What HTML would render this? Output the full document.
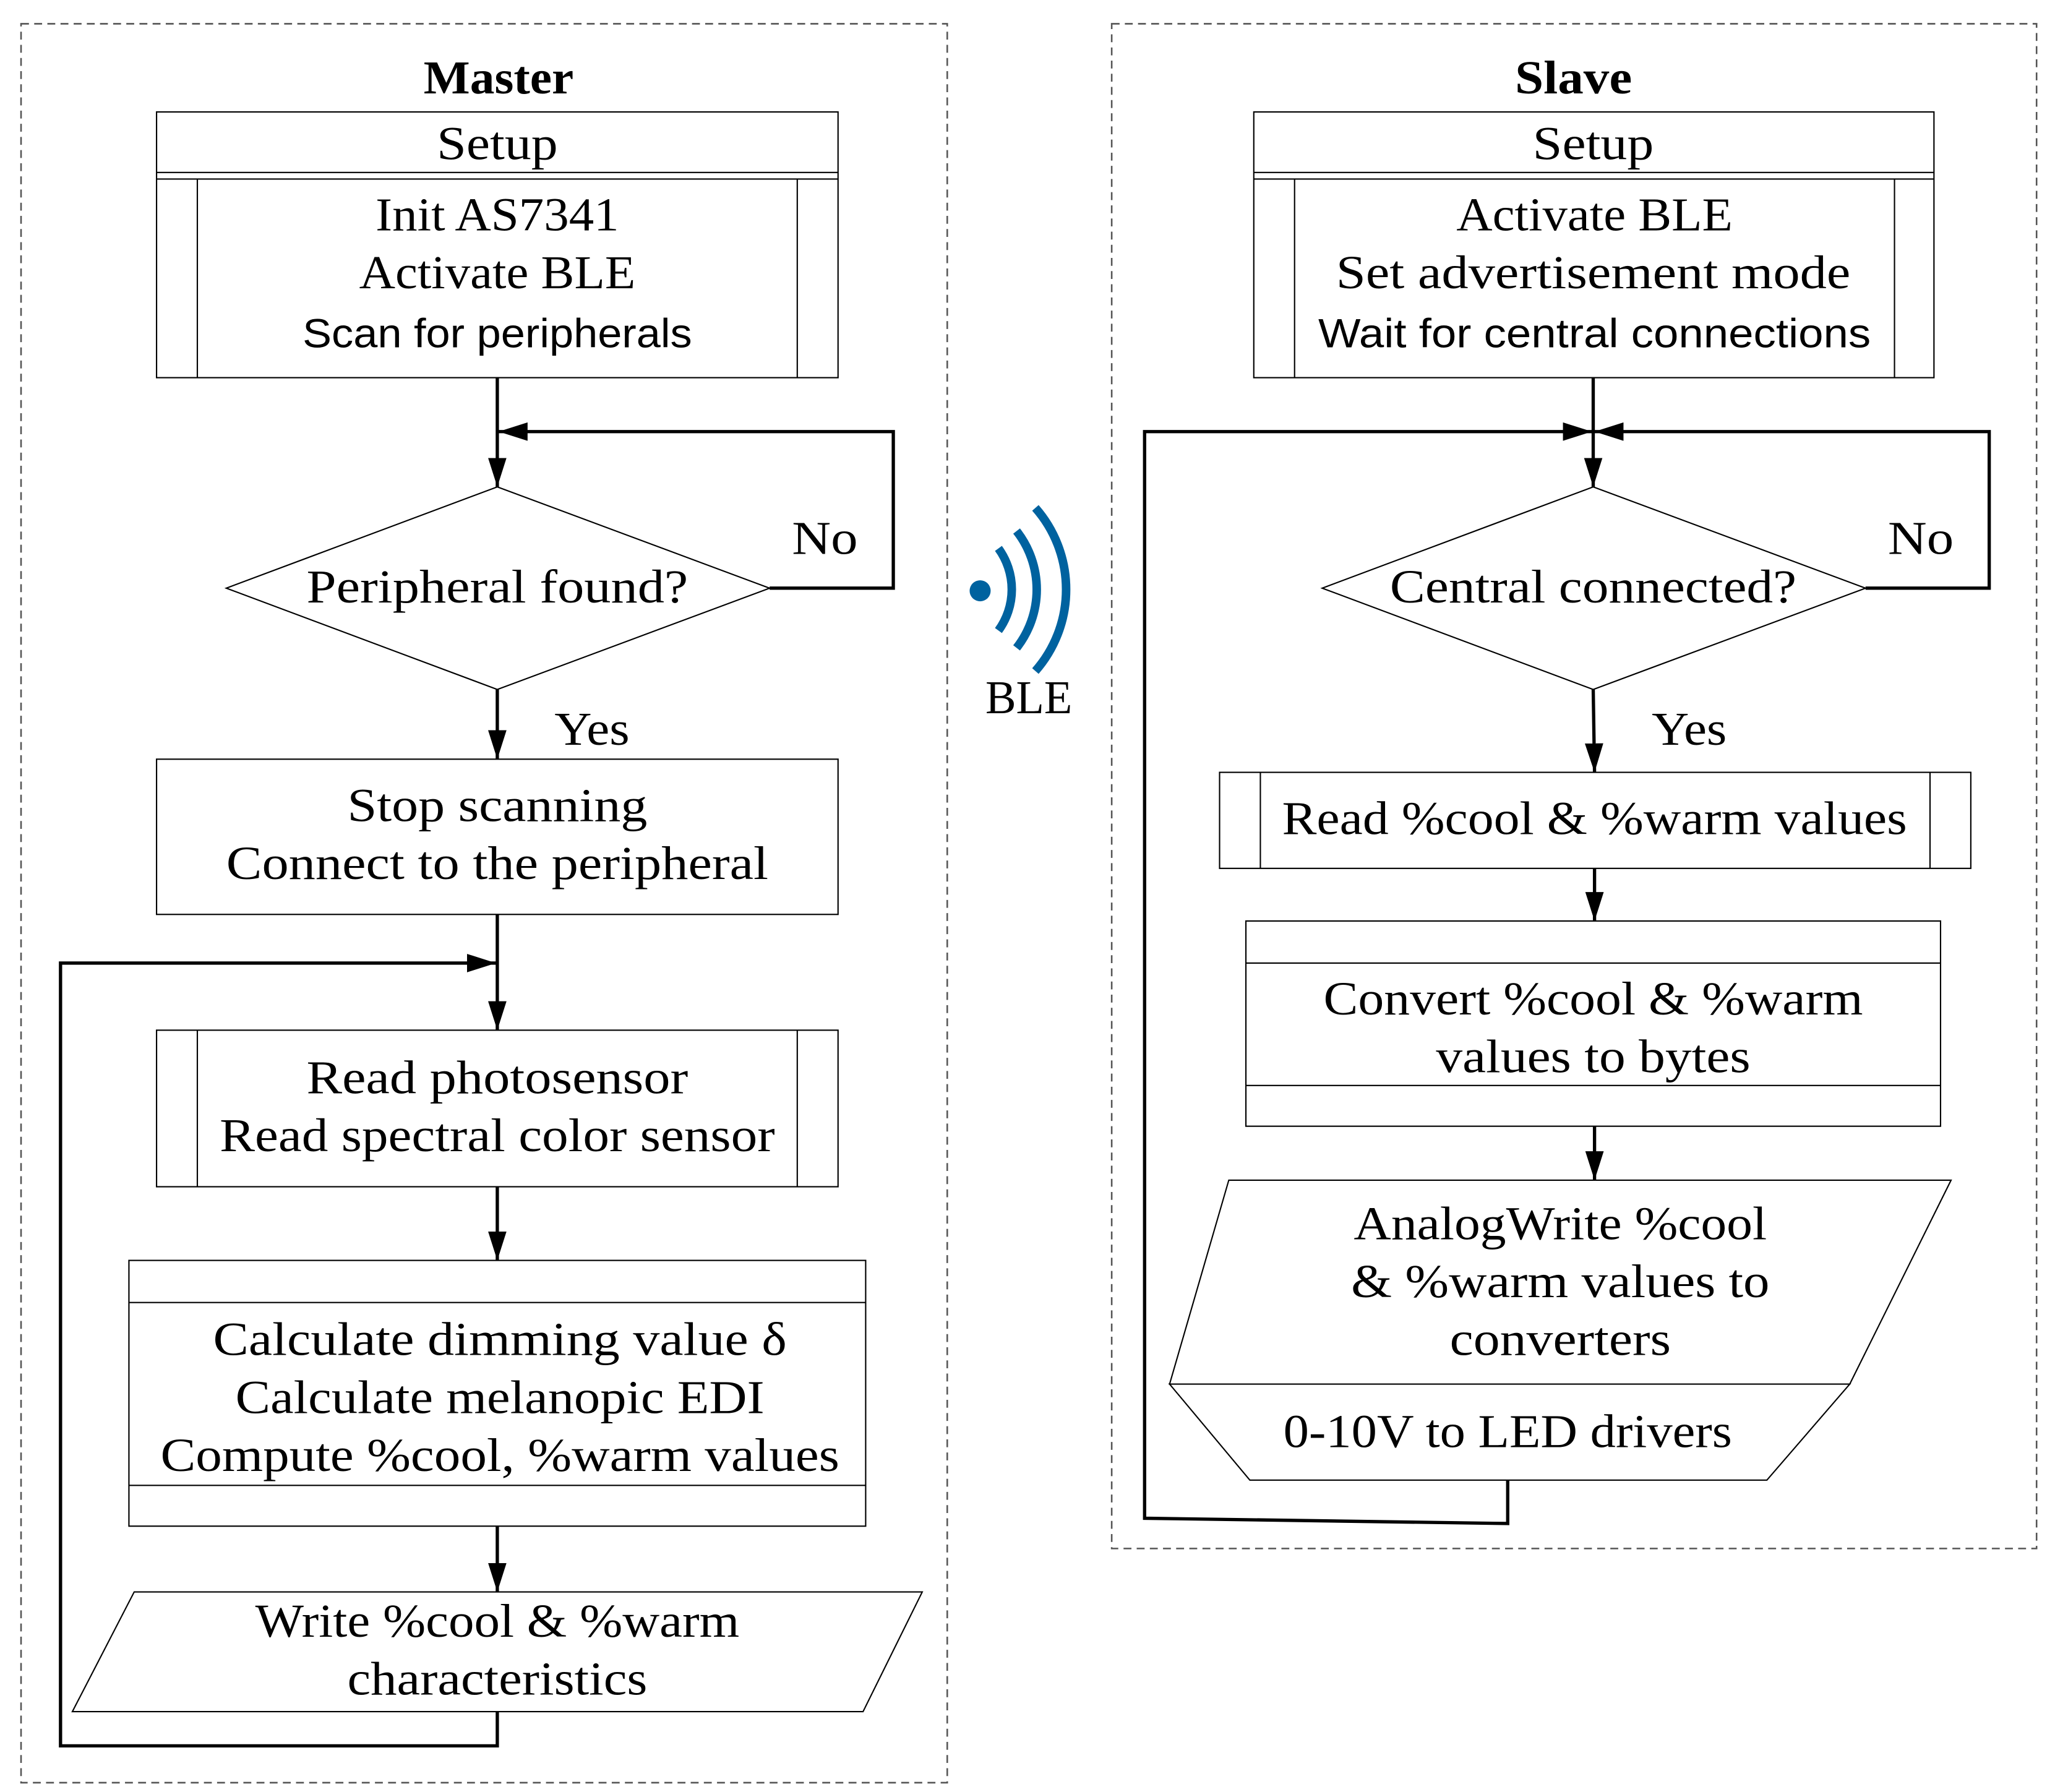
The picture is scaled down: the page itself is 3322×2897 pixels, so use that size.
<!DOCTYPE html>
<html><head><meta charset="utf-8"><style>html,body{margin:0;padding:0;background:#fff}svg{display:block}</style></head>
<body>
<svg xmlns="http://www.w3.org/2000/svg" width="3322" height="2897" viewBox="0 0 1562 1362">
<defs>
<marker id="ah" viewBox="0 0 22 14" refX="22" refY="7" markerWidth="22" markerHeight="14" markerUnits="userSpaceOnUse" orient="auto">
<path d="M0,0 L22,7 L0,14 Z" fill="#000"/></marker>
</defs>
<rect width="1562" height="1362" fill="#fff"/>
<g fill="none" stroke="#555" stroke-width="1.2" stroke-dasharray="6,4">
<rect x="16" y="18" width="704" height="1337"/>
<rect x="845" y="18" width="703" height="1159"/>
</g>
<g font-family="Liberation Serif, serif" font-size="36" text-anchor="middle" fill="#000" lengthAdjust="spacingAndGlyphs">
<text x="379" y="71" font-weight="bold" textLength="114" lengthAdjust="spacingAndGlyphs">Master</text>
<text x="1196" y="71" font-weight="bold" textLength="89" lengthAdjust="spacingAndGlyphs">Slave</text>
</g>
<!-- Master shapes -->
<g fill="#fff" stroke="#000" stroke-width="1">
<rect x="119" y="85" width="518" height="202"/>
<line x1="119" y1="131" x2="637" y2="131"/><line x1="119" y1="136" x2="637" y2="136"/>
<line x1="150" y1="136" x2="150" y2="287"/><line x1="606" y1="136" x2="606" y2="287"/>
<polygon points="378,370 585,447 378,524 172,447"/>
<rect x="119" y="577" width="518" height="118"/>
<rect x="119" y="783" width="518" height="119"/>
<line x1="150" y1="783" x2="150" y2="902"/><line x1="606" y1="783" x2="606" y2="902"/>
<rect x="98" y="958" width="560" height="202"/>
<line x1="98" y1="990" x2="658" y2="990"/><line x1="98" y1="1129" x2="658" y2="1129"/>
<polygon points="102,1210 701,1210 656,1301 55,1301"/>
<!-- Slave shapes -->
<rect x="953" y="85" width="517" height="202"/>
<line x1="953" y1="131" x2="1470" y2="131"/><line x1="953" y1="136" x2="1470" y2="136"/>
<line x1="984" y1="136" x2="984" y2="287"/><line x1="1440" y1="136" x2="1440" y2="287"/>
<polygon points="1211,370 1418,447 1211,524 1005,447"/>
<rect x="927" y="587" width="571" height="73"/>
<line x1="958" y1="587" x2="958" y2="660"/><line x1="1467" y1="587" x2="1467" y2="660"/>
<rect x="947" y="700" width="528" height="156"/>
<line x1="947" y1="732" x2="1475" y2="732"/><line x1="947" y1="825" x2="1475" y2="825"/>
<polygon points="934,897 1483,897 1406,1052 889,1052"/>
<polygon points="889,1052 1406,1052 1343,1125 950,1125"/>
</g>
<!-- connectors -->
<g fill="none" stroke="#000" stroke-width="2.5" marker-end="url(#ah)">
<line x1="378" y1="287" x2="378" y2="370"/>
<polyline points="585,447 679,447 679,328 379,328"/>
<line x1="378" y1="524" x2="378" y2="577"/>
<line x1="378" y1="695" x2="378" y2="783"/>
<polyline points="378,1301 378,1327 46,1327 46,732 377,732"/>
<line x1="378" y1="902" x2="378" y2="958"/>
<line x1="378" y1="1160" x2="378" y2="1210"/>
<line x1="1211" y1="287" x2="1211" y2="370"/>
<polyline points="1418,447 1512,447 1512,328 1212,328"/>
<polyline points="1146,1125 1146,1158 870,1154 870,328 1210,328"/>
<line x1="1211" y1="524" x2="1212" y2="587"/>
<line x1="1212" y1="660" x2="1212" y2="700"/>
<line x1="1212" y1="856" x2="1212" y2="897"/>
</g>
<!-- BLE icon -->
<circle cx="745" cy="449" r="8" fill="#00629f"/>
<g fill="none" stroke="#00629f" stroke-width="6.5">
<path d="M 758.9,416.8 A 53,53 0 0 1 758.9,479.2"/>
<path d="M 772.7,403.6 A 72,72 0 0 1 772.7,492.4"/>
<path d="M 787,386 A 94,94 0 0 1 787,510"/>
</g>
<!-- texts -->
<g font-family="Liberation Serif, serif" font-size="36" text-anchor="middle" fill="#000">
<text x="782" y="542" textLength="66" lengthAdjust="spacingAndGlyphs">BLE</text>
<text x="378" y="121" textLength="92" lengthAdjust="spacingAndGlyphs">Setup</text>
<text x="378" y="175" textLength="185" lengthAdjust="spacingAndGlyphs">Init AS7341</text>
<text x="378" y="219" textLength="210" lengthAdjust="spacingAndGlyphs">Activate BLE</text>
<text x="378" y="458" textLength="290" lengthAdjust="spacingAndGlyphs">Peripheral found?</text>
<text x="627" y="421" textLength="50" lengthAdjust="spacingAndGlyphs">No</text>
<text x="450" y="566" textLength="57" lengthAdjust="spacingAndGlyphs">Yes</text>
<text x="378" y="624" textLength="228" lengthAdjust="spacingAndGlyphs">Stop scanning</text>
<text x="378" y="668" textLength="412" lengthAdjust="spacingAndGlyphs">Connect to the peripheral</text>
<text x="378" y="831" textLength="290" lengthAdjust="spacingAndGlyphs">Read photosensor</text>
<text x="378" y="875" textLength="422" lengthAdjust="spacingAndGlyphs">Read spectral color sensor</text>
<text x="380" y="1030" textLength="436" lengthAdjust="spacingAndGlyphs">Calculate dimming value δ</text>
<text x="380" y="1074" textLength="402" lengthAdjust="spacingAndGlyphs">Calculate melanopic EDI</text>
<text x="380" y="1118" textLength="516" lengthAdjust="spacingAndGlyphs">Compute %cool, %warm values</text>
<text x="378" y="1244" textLength="368" lengthAdjust="spacingAndGlyphs">Write %cool &amp; %warm</text>
<text x="378" y="1288" textLength="228" lengthAdjust="spacingAndGlyphs">characteristics</text>
<text x="1211" y="121" textLength="92" lengthAdjust="spacingAndGlyphs">Setup</text>
<text x="1212" y="175" textLength="210" lengthAdjust="spacingAndGlyphs">Activate BLE</text>
<text x="1211" y="219" textLength="391" lengthAdjust="spacingAndGlyphs">Set advertisement mode</text>
<text x="1211" y="458" textLength="309" lengthAdjust="spacingAndGlyphs">Central connected?</text>
<text x="1460" y="421" textLength="50" lengthAdjust="spacingAndGlyphs">No</text>
<text x="1284" y="566" textLength="57" lengthAdjust="spacingAndGlyphs">Yes</text>
<text x="1212" y="634" textLength="475" lengthAdjust="spacingAndGlyphs">Read %cool &amp; %warm values</text>
<text x="1211" y="771" textLength="410" lengthAdjust="spacingAndGlyphs">Convert %cool &amp; %warm</text>
<text x="1211" y="815" textLength="239" lengthAdjust="spacingAndGlyphs">values to bytes</text>
<text x="1186" y="942" textLength="314" lengthAdjust="spacingAndGlyphs">AnalogWrite %cool</text>
<text x="1186" y="986" textLength="318" lengthAdjust="spacingAndGlyphs">&amp; %warm values to</text>
<text x="1186" y="1030" textLength="168" lengthAdjust="spacingAndGlyphs">converters</text>
<text x="1146" y="1100" textLength="341" lengthAdjust="spacingAndGlyphs">0-10V to LED drivers</text>
</g>
<g font-family="Liberation Sans, sans-serif" font-size="31" text-anchor="middle" fill="#000">
<text x="378" y="264" textLength="296" lengthAdjust="spacingAndGlyphs">Scan for peripherals</text>
<text x="1212" y="264" textLength="420" lengthAdjust="spacingAndGlyphs">Wait for central connections</text>
</g>
</svg>
</body></html>
